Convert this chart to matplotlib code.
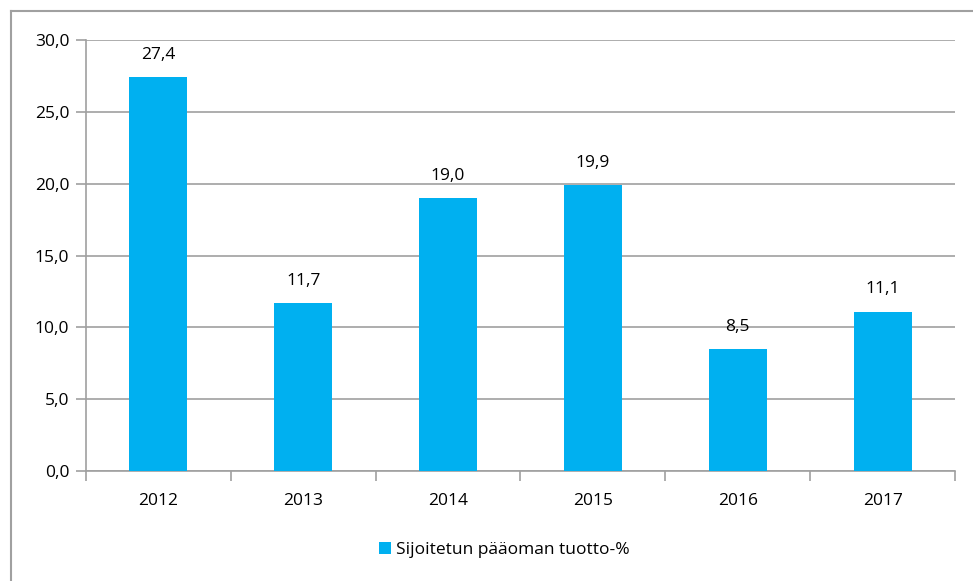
import matplotlib
matplotlib.use('Agg')
from matplotlib import pyplot as plt
from matplotlib.lines import Line2D

years = ['2012', '2013', '2014', '2015', '2016', '2017']
values = [27.4, 11.7, 19.0, 19.9, 8.5, 11.1]
series_name = 'Sijoitetun pääoman tuotto-%'
bar_color = '#00B0F0'
grid_color = '#A0A0A0'

plt.rcParams['font.family'] = ['Open Sans', 'DejaVu Sans']
fs = 12.5

fig = plt.figure(figsize=(9.73, 5.81), dpi=100)
W, H = 973, 581
ax = fig.add_axes([86 / W, 1 - 471 / H, (955 - 86) / W, (471 - 40) / H])

x = list(range(len(years)))
ax.bar(x, values, width=0.4, color=bar_color, label=series_name, zorder=3)
for xi, v in zip(x, values):
    ax.text(xi, v + 1.0, f'{v:.1f}'.replace('.', ','), ha='center', va='bottom',
            fontsize=fs, color='black')

ax.set_xlim(-0.5, len(years) - 0.5)
ax.set_ylim(0, 30)
ax.set_yticks([0, 5, 10, 15, 20, 25, 30])
ax.set_yticklabels([f'{t:.1f}'.replace('.', ',') for t in ax.get_yticks()], fontsize=fs)
ax.set_xticks(x)
ax.set_xticklabels(years, fontsize=fs)
ax.tick_params(axis='x', length=0, pad=16)
ax.tick_params(axis='y', length=7, color=grid_color, pad=5, width=1.2)

# category boundary ticks
ax.set_xticks([i - 0.5 for i in range(len(years) + 1)], minor=True)
ax.tick_params(axis='x', which='minor', length=7, color=grid_color, width=1.2)

ax.yaxis.grid(True, color=grid_color, linewidth=1.2, zorder=0)
for s in ['top', 'right']:
    ax.spines[s].set_visible(False)
ax.spines['left'].set_color(grid_color)
ax.spines['bottom'].set_color(grid_color)
ax.spines['left'].set_linewidth(1.2)
ax.spines['bottom'].set_linewidth(1.2)

fig.legend(loc='center', bbox_to_anchor=(504 / W, 1 - 550 / H), frameon=False,
           fontsize=fs, handlelength=0.7, handleheight=0.7, handletextpad=0.3)

# outer chart frame
fig.add_artist(Line2D([11 / W, 11 / W], [0, 1 - 11 / H], color=grid_color, lw=1.5,
                      transform=fig.transFigure))
fig.add_artist(Line2D([11 / W, 1], [1 - 11 / H, 1 - 11 / H], color=grid_color, lw=1.5,
                      transform=fig.transFigure))

fig.savefig('out.png', dpi=100)
